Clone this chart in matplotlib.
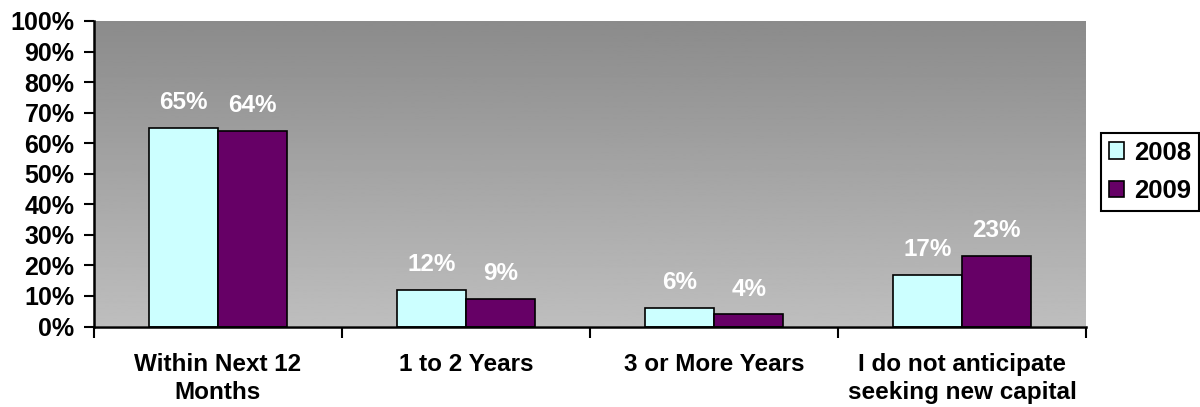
import numpy as np
import matplotlib
matplotlib.use('Agg')
import matplotlib.pyplot as plt
from matplotlib.ticker import MultipleLocator, PercentFormatter, FixedLocator

plt.rcParams['font.family'] = ['Liberation Sans', 'DejaVu Sans']
plt.rcParams['font.weight'] = 'bold'

categories = ['Within Next 12\nMonths', '1 to 2 Years', '3 or More Years',
              'I do not anticipate\nseeking new capital']
series_names = ['2008', '2009']
values_2008 = [65, 12, 6, 17]
values_2009 = [64, 9, 4, 23]

COLOR_2008 = '#CCFFFF'
COLOR_2009 = '#660066'
BAR_W = 0.28

fig = plt.figure(figsize=(12, 4.07), dpi=100)
W, H = 1200, 407
left, right, top, bottom = 94, 1086, 21, 326.5
ax = fig.add_axes([left / W, 1 - bottom / H, (right - left) / W, (bottom - top) / H])

# grey vertical gradient behind the bars
grad = np.linspace(0.545, 0.745, 256).reshape(-1, 1)
ax.imshow(grad, cmap='gray', vmin=0, vmax=1, extent=[0, 1, 0, 1],
          transform=ax.transAxes, aspect='auto', zorder=0, origin='upper')

x = np.arange(len(categories))
b1 = ax.bar(x - BAR_W / 2, values_2008, BAR_W, color=COLOR_2008,
            edgecolor='black', linewidth=1.2, label=series_names[0], zorder=2)
b2 = ax.bar(x + BAR_W / 2, values_2009, BAR_W, color=COLOR_2009,
            edgecolor='black', linewidth=1.2, label=series_names[1], zorder=2)

for bars, vals in ((b1, values_2008), (b2, values_2009)):
    for rect, v in zip(bars, vals):
        ax.annotate(f'{v}%', (rect.get_x() + rect.get_width() / 2, v),
                    xytext=(0, 13.5), textcoords='offset points',
                    ha='center', va='baseline', color='white',
                    fontsize=17.5, fontweight='bold', zorder=3)

ax.set_xlim(-0.5, len(categories) - 0.5)
ax.set_ylim(0, 100)
ax.yaxis.set_major_locator(MultipleLocator(10))
ax.yaxis.set_major_formatter(PercentFormatter(decimals=0))
ax.set_xticks(x)
ax.set_xticklabels(categories, fontsize=17.5, fontweight='bold', linespacing=1.3)
ax.xaxis.set_minor_locator(FixedLocator(np.arange(-0.5, len(categories), 1.0)))
ax.tick_params(axis='x', which='major', length=0, pad=19)
ax.tick_params(axis='x', which='minor', length=8, width=1.5, direction='out')
ax.tick_params(axis='y', length=7, width=1.5, direction='out', labelsize=18, pad=7)
for lab in ax.get_yticklabels():
    lab.set_fontweight('bold')

for s in ('top', 'right'):
    ax.spines[s].set_visible(False)
for s in ('left', 'bottom'):
    ax.spines[s].set_linewidth(1.8)
    ax.spines[s].set_zorder(4)

leg = fig.legend(handles=[b1, b2], labels=series_names, loc='upper left',
                 bbox_to_anchor=(1101 / W, 1 - 133 / H), frameon=True,
                 fancybox=False, framealpha=1, edgecolor='black',
                 prop={'weight': 'bold', 'size': 18.5}, handlelength=0.6,
                 handleheight=0.6, handletextpad=0.4, borderpad=0.3,
                 labelspacing=0.55, borderaxespad=0)
leg.get_frame().set_linewidth(1.5)

fig.savefig('out.png', dpi=100)
